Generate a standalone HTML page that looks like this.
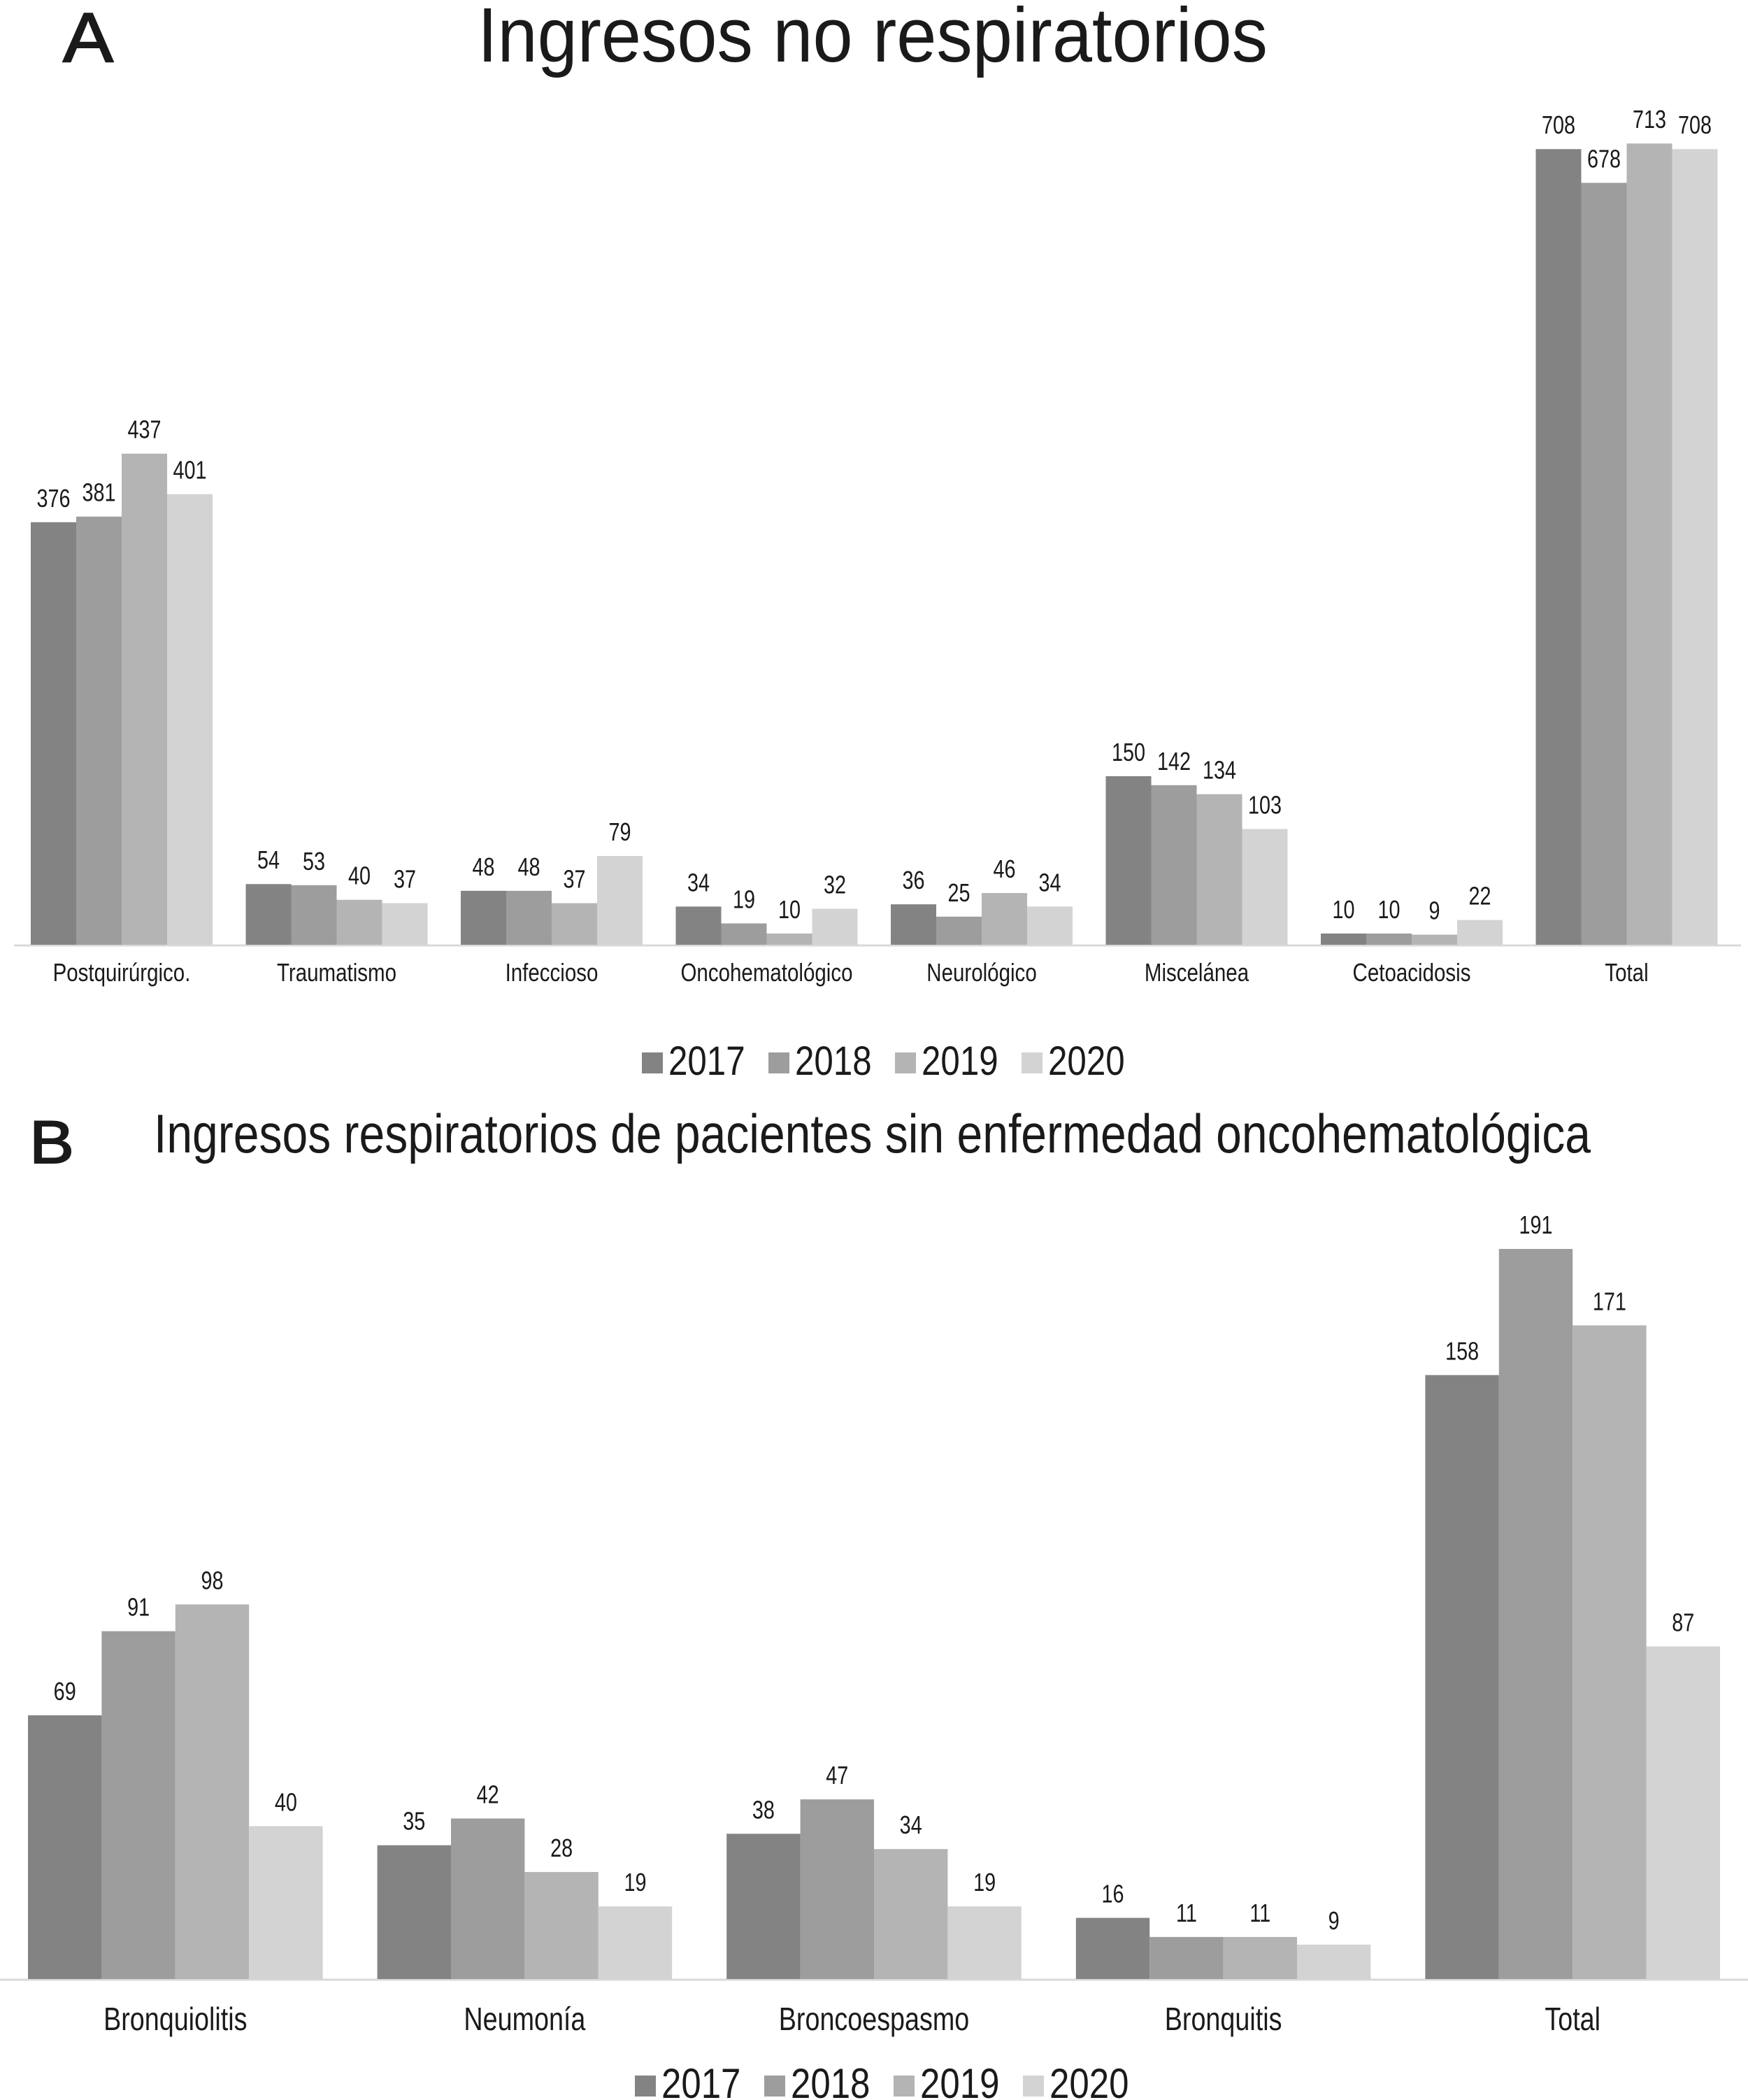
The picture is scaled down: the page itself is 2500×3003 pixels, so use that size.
<!DOCTYPE html>
<html><head><meta charset="utf-8"><style>
html,body{margin:0;padding:0;background:#fff;}
svg{display:block;}
text{font-family:"Liberation Sans Narrow","Liberation Sans",sans-serif;fill:#1a1a1a;}
</style></head><body>
<svg id="chart" width="2500" height="3003" viewBox="0 0 2500 3003" xmlns="http://www.w3.org/2000/svg">
<text x="90" y="88" font-size="100" textLength="72" lengthAdjust="spacingAndGlyphs" stroke="#1a1a1a" stroke-width="2">A</text>
<text x="1248" y="88" text-anchor="middle" font-size="110" textLength="1130" lengthAdjust="spacingAndGlyphs">Ingresos no respiratorios</text>
<text x="42" y="1663" font-size="86" textLength="64" lengthAdjust="spacingAndGlyphs" stroke="#1a1a1a" stroke-width="2">B</text>
<text x="220" y="1648" font-size="78" textLength="2055" lengthAdjust="spacingAndGlyphs">Ingresos respiratorios de pacientes sin enfermedad oncohematológica</text>
<g id="ga"></g><g id="gb"></g>
</svg>
<script>
const years = ["2017","2018","2019","2020"];
const colors = ["#838383","#9d9d9d","#b4b4b4","#d3d3d3"];
const catsA = ["Postquirúrgico.","Traumatismo","Infeccioso","Oncohematológico","Neurológico","Miscelánea","Cetoacidosis","Total"];
const a2017 = [376,54,48,34,36,150,10,708];
const a2018 = [381,53,48,19,25,142,10,678];
const a2019 = [437,40,37,10,46,134,9,713];
const a2020 = [401,37,79,32,34,103,22,708];
const catsB = ["Bronquiolitis","Neumonía","Broncoespasmo","Bronquitis","Total"];
const b2017 = [69,35,38,16,158];
const b2018 = [91,42,47,11,191];
const b2019 = [98,28,34,11,171];
const b2020 = [40,19,19,9,87];
const NS="http://www.w3.org/2000/svg";
function mk(tag,attrs,parent){const e=document.createElementNS(NS,tag);for(const k in attrs)e.setAttribute(k,attrs[k]);parent.appendChild(e);return e;}
function narrow(t,x,f){t.setAttribute('transform','translate('+x+',0) scale('+f+',1) translate('+(-x)+',0)');}
function draw(g,cfg){
  const {cats,series,x0,step,bw,base,scale,valFs,catFs,catY,legY,legX,legStep,legFs,sq,prefix,axisX1,axisX2}=cfg;
  const yv=v=>base-v*scale;
  const ax=mk('line',{x1:axisX1,x2:axisX2,y1:base+1,y2:base+1,stroke:'#d9d9d9','stroke-width':3},g);
  
  
  cats.forEach((c,i)=>{
    const gx=x0+i*step;
    series.forEach((s,j)=>{
      const x=gx+j*bw, y=yv(s[i]);
      const r=mk('rect',{x:x,y:y,width:bw,height:base-y,fill:colors[j]},g);
      
      
      const t=mk('text',{x:x+bw/2,y:y-22,'text-anchor':'middle','font-size':valFs},g);
      t.textContent=s[i];
      narrow(t,x+bw/2,0.8);
      
      
    });
    const l=mk('text',{x:gx+bw*2,y:catY,'text-anchor':'middle','font-size':catFs},g);
    l.textContent=c;
    narrow(l,gx+bw*2,0.82);
    
    
  });
  years.forEach((yr,j)=>{
    const lx=legX+j*legStep;
    const r=mk('rect',{x:lx,y:legY-sq,width:sq,height:sq,fill:colors[j]},g);
    
    
    const t=mk('text',{x:lx+sq+8,y:legY+2,'font-size':legFs},g);
    t.textContent=yr;
    narrow(t,lx+sq+8,0.85);
    
    
  });
}
draw(document.getElementById('ga'),{cats:catsA,series:[a2017,a2018,a2019,a2020],x0:44,step:307.5,bw:65,base:1351,scale:1.607,valFs:36,catFs:36,catY:1403,legY:1535,legX:918,legStep:181,legFs:58,sq:30,prefix:'chart-a',axisX1:20,axisX2:2490});
draw(document.getElementById('gb'),{cats:catsB,series:[b2017,b2018,b2019,b2020],x0:40,step:499.6,bw:105.4,base:2830,scale:5.466,valFs:36,catFs:46,catY:2903,legY:2998,legX:908,legStep:185,legFs:60,sq:30,prefix:'chart-b',axisX1:0,axisX2:2500});
</script>
</body></html>
